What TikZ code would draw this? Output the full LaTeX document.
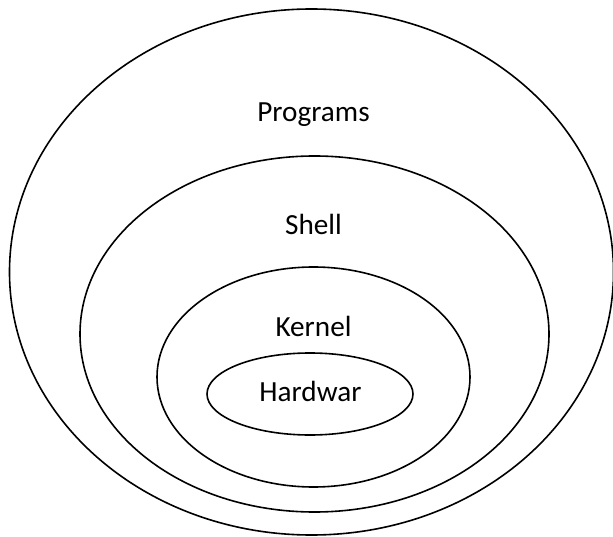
\documentclass[tikz,border=0pt]{standalone}
\usepackage{fontspec}
\setmainfont{Carlito}
\usetikzlibrary{shapes.geometric}
\begin{document}
\begin{tikzpicture}[x=1pt,y=-1pt,
  ring/.style={draw=black, line width=1.6pt, ellipse, inner sep=0pt},
  lbl/.style={anchor=base, inner sep=0pt, font=\fontsize{29.2}{35}\selectfont}]
\useasboundingbox (0,0) rectangle (613,537);
\node[ring, minimum width=604pt, minimum height=526pt] (outer) at (311.5,272) {};
\node[ring, minimum width=469pt, minimum height=356pt] (shell) at (314.5,334) {};
\node[ring, minimum width=313pt, minimum height=220pt] (kernel) at (313.5,377) {};
\node[ring, minimum width=206pt, minimum height=82pt] (hw) at (310,394) {};
\node[lbl] (tprog) at (313.5,122) {Programs};
\node[lbl] (tshell) at (313.5,235) {Shell};
\node[lbl] (tkern) at (313.5,336) {Kernel};
\node[lbl] (thw) at (310.5,401) {Hardwar};
\end{tikzpicture}
\end{document}
